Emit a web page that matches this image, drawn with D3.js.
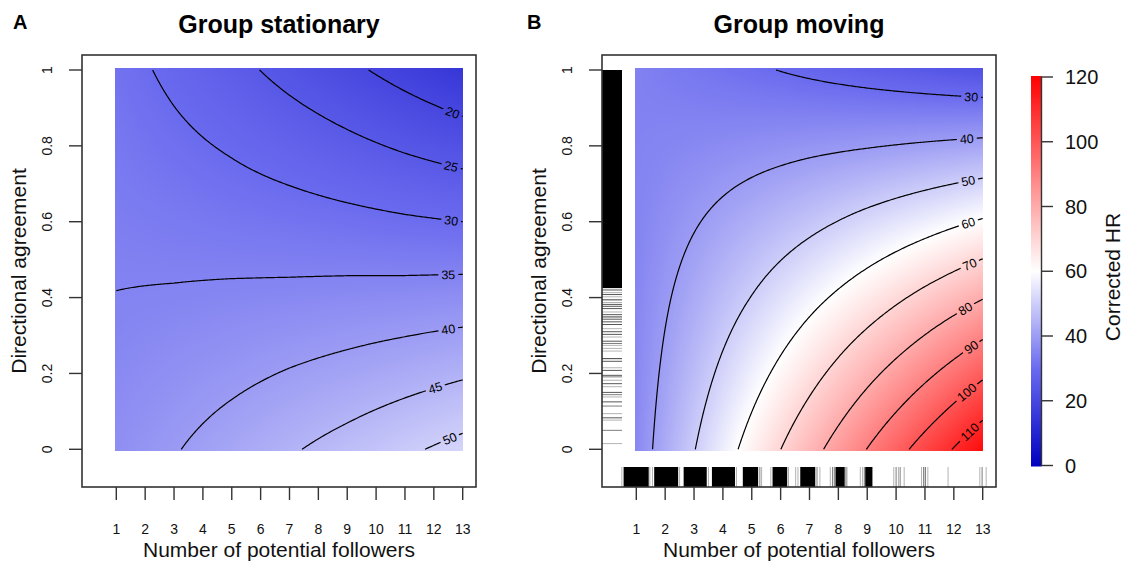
<!DOCTYPE html>
<html>
<head>
<meta charset="utf-8">
<script src="https://d3js.org/d3.v7.min.js"></script>
<style>
  body { margin: 0; background: #fff; }
  svg { display: block; font-family: "Liberation Sans", Arial, sans-serif; }
</style>
</head>
<body>
<svg width="1126" height="561"></svg>
<script>
// grid of the fitted surfaces: columns = number of potential followers, rows = directional agreement
var followers = [1, 3, 5, 7, 9, 11, 13];
var agreement = [0, 0.2, 0.4, 0.6, 0.8, 1];

// corrected HR, one row per agreement value
var stationaryHR = [
  [37.4, 39.7, 42.1, 44.5, 46.8, 49.2, 51.5],
  [36.2, 37.6, 38.9, 40.3, 41.6, 43.0, 44.4],
  [35.1, 35.4, 35.8, 36.1, 36.5, 36.8, 37.2],
  [34.0, 33.3, 32.6, 32.0, 31.3, 30.6, 30.0],
  [32.8, 31.1, 29.5, 27.8, 26.1, 24.4, 22.8],
  [31.7, 29.0, 26.3, 23.6, 21.0, 18.3, 15.6]
];
var movingHR = [
  [36.2, 49.7, 63.2, 76.7, 90.2, 103.7, 117.2],
  [35.9, 46.3, 56.7, 67.1, 77.6, 88.0, 98.4],
  [35.6, 42.9, 50.2, 57.6, 64.9, 72.3, 79.6],
  [35.2, 39.5, 43.8, 48.0, 52.3, 56.5, 60.8],
  [34.9, 36.1, 37.3, 38.5, 39.6, 40.8, 42.0],
  [34.6, 32.7, 30.8, 28.9, 27.0, 25.1, 23.2]
];
var stationaryLevels = [20, 25, 30, 35, 40, 45, 50];
var movingLevels = [30, 40, 50, 60, 70, 80, 90, 100, 110];

var xTicks = [1, 2, 3, 4, 5, 6, 7, 8, 9, 10, 11, 12, 13];
var yTicks = [0, 0.2, 0.4, 0.6, 0.8, 1];
var yTickLabels = ["0", "0.2", "0.4", "0.6", "0.8", "1"];
var legendTicks = [0, 20, 40, 60, 80, 100, 120];

// observations shown as rugs on the moving panel: dense stretches, then single lines [value, count]
var agreementBand = [0.425, 1];
var agreementRug = [[0.420,3],[0.413,1],[0.408,3],[0.402,1],[0.394,4],[0.387,1],[0.382,3],[0.377,3],
  [0.371,3],[0.362,1],[0.355,3],[0.349,4],[0.343,3],[0.336,3],[0.329,3],[0.318,1],[0.310,3],[0.303,3],
  [0.296,1],[0.285,3],[0.279,2],[0.274,1],[0.266,1],[0.259,1],[0.239,4],[0.232,3],[0.215,1],[0.208,3],
  [0.195,3],[0.191,2],[0.182,1],[0.173,3],[0.165,1],[0.150,3],[0.144,2],[0.138,1],[0.125,3],[0.114,2],
  [0.094,1],[0.083,3],[0.077,1],[0.050,2],[0.015,1]];
var followerBands = [[0.56,1.43],[1.62,2.45],[2.64,3.44],[3.62,4.42],[4.69,5.22],[5.72,6.22],
  [6.68,7.2],[7.9,8.22],[8.93,9.18]];
var followerRug = [[0.5,1],[1.47,1],[1.56,1],[2.5,1],[3.5,1],[4.47,1],[5.28,2],[5.34,1],[5.66,1],
  [6.26,2],[6.52,1],[6.6,1],[7.26,2],[7.36,1],[7.72,1],[7.8,2],[7.86,2],[8.26,2],[8.3,1],[8.76,1],
  [8.84,1],[8.9,2],[9.92,1],[10.0,2],[10.08,1],[10.14,2],[10.28,1],[10.88,1],[10.96,3],[11.02,2],
  [11.1,1],[11.8,1],[12.9,1],[12.98,2],[13.12,1]];

var svg = d3.select("svg");
var color = d3.scaleLinear().domain([0, 30, 60, 120])
  .range(["#0000c0", "#6a6aef", "#ffffff", "#ff0000"]);
var ink = "#333";

var panels = [
  { letter: "A", title: "Group stationary", off: 0, grid: stationaryHR, levels: stationaryLevels,
    labelAt: {20: 12.65, 25: 12.6, 30: 12.6, 35: 12.5, 40: 12.5, 45: 12.05, 50: 12.55}, rug: false },
  { letter: "B", title: "Group moving", off: 520, grid: movingHR, levels: movingLevels,
    labelAt: {30: 12.6, 40: 12.45, 50: 12.5, 60: 12.5, 70: 12.55, 80: 12.4, 90: 12.6, 100: 12.45, 110: 12.55}, rug: true }
];

function clamp(v, lo, hi) { return Math.max(lo, Math.min(hi, v)); }

// bilinear lookup in the read grid
function surface(grid) {
  var gx = d3.scaleLinear().domain(d3.extent(followers)).range([0, followers.length - 1]);
  var gy = d3.scaleLinear().domain(d3.extent(agreement)).range([0, agreement.length - 1]);
  return function(n, d) {
    var u = clamp(gx(n), 0, followers.length - 1.000001), v = clamp(gy(d), 0, agreement.length - 1.000001);
    var i = Math.floor(u), j = Math.floor(v), tx = u - i, ty = v - j;
    return (1 - tx) * (1 - ty) * grid[j][i] + tx * (1 - ty) * grid[j][i + 1]
      + (1 - tx) * ty * grid[j + 1][i] + tx * ty * grid[j + 1][i + 1];
  };
}

// split a contour ring into open isolines, dropping the pieces that run along the grid frame
function isolines(ring, nx, ny) {
  function onFrame(p, q) {
    return (p[0] === 0 && q[0] === 0) || (p[0] === nx && q[0] === nx) ||
           (p[1] === 0 && q[1] === 0) || (p[1] === ny && q[1] === ny);
  }
  var m = ring.length - 1, start = -1, lines = [], cur = [];
  for (var k = 0; k < m; k++) if (onFrame(ring[k], ring[k + 1])) { start = k + 1; break; }
  if (start < 0) return [ring.slice()];
  for (var s = 0; s < m; s++) {
    var a = ring[(start + s) % m], b = ring[(start + s + 1) % m];
    if (onFrame(a, b)) { if (cur.length > 1) lines.push(cur); cur = []; }
    else { if (!cur.length) cur.push(a); cur.push(b); }
  }
  if (cur.length > 1) lines.push(cur);
  // pull frame end points onto their neighbour so lines end cleanly at the edge
  lines.forEach(function(l) {
    [[0, 1], [l.length - 1, l.length - 2]].forEach(function(e) {
      var p = l[e[0]], q = l[e[1]];
      if (p[0] === 0 || p[0] === nx) l[e[0]] = [p[0], q[1]];
      else if (p[1] === 0 || p[1] === ny) l[e[0]] = [q[0], p[1]];
    });
  });
  return lines;
}

function yAt(pts, x) {
  for (var k = 0; k < pts.length - 1; k++) {
    var a = pts[k], b = pts[k + 1];
    if ((a[0] - x) * (b[0] - x) <= 0 && a[0] !== b[0]) {
      return a[1] + (x - a[0]) / (b[0] - a[0]) * (b[1] - a[1]);
    }
  }
  return null;
}

panels.forEach(function(p) {
  var off = p.off;
  var xs = d3.scaleLinear().domain([1, 13]).range([116.3 + off, 462.7 + off]);
  var ys = d3.scaleLinear().domain([0, 1]).range([449.3, 70]);
  var f = surface(p.grid);
  var g = svg.append("g");

  // heat image
  var hx0 = Math.round(xs(1) - 1.3), hx1 = Math.round(xs(13) + 0.6);
  var hy0 = Math.round(ys(1) - 1.7), hy1 = Math.round(ys(0) + 1.7);
  var w = hx1 - hx0, h = hy1 - hy0;
  var canvas = document.createElement("canvas");
  canvas.width = w; canvas.height = h;
  var ctx = canvas.getContext("2d");
  var img = ctx.createImageData(w, h);
  for (var py = 0; py < h; py++) {
    var dv = clamp(ys.invert(hy0 + py + 0.5), 0, 1);
    for (var px = 0; px < w; px++) {
      var nv = clamp(xs.invert(hx0 + px + 0.5), 1, 13);
      var c = d3.rgb(color(f(nv, dv)));
      var o = (py * w + px) * 4;
      img.data[o] = c.r; img.data[o + 1] = c.g; img.data[o + 2] = c.b; img.data[o + 3] = 255;
    }
  }
  ctx.putImageData(img, 0, 0);
  g.append("image").attr("x", hx0).attr("y", hy0).attr("width", w).attr("height", h)
    .attr("preserveAspectRatio", "none").attr("href", canvas.toDataURL());

  // contours on a fine sampling of the surface
  var nx = 241, ny = 201, sn = 12 / (nx - 1), sd = 1 / (ny - 1);
  var values = new Array(nx * ny);
  for (var j = 0; j < ny; j++) for (var i = 0; i < nx; i++) values[j * nx + i] = f(1 + i * sn, j * sd);
  var sets = d3.contours().size([nx, ny]).thresholds(p.levels)(values);

  var maskId = "gap" + p.letter;
  var mask = svg.append("defs").append("mask").attr("id", maskId)
    .attr("maskUnits", "userSpaceOnUse").attr("x", 0).attr("y", 0).attr("width", 1126).attr("height", 561);
  mask.append("rect").attr("width", 1126).attr("height", 561).attr("fill", "#fff");

  var lineGen = d3.line();
  var cg = g.append("g").attr("mask", "url(#" + maskId + ")");
  var lg = g.append("g");
  var fs = 12.5;

  sets.forEach(function(set) {
    var lines = [];
    set.coordinates.forEach(function(poly) {
      poly.forEach(function(ring) {
        isolines(ring, nx, ny).forEach(function(l) {
          lines.push(l.map(function(q) {
            return [xs(clamp(1 + (q[0] - 0.5) * sn, 1, 13)), ys(clamp((q[1] - 0.5) * sd, 0, 1))];
          }));
        });
      });
    });
    lines.forEach(function(l) {
      cg.append("path").attr("d", lineGen(l)).attr("fill", "none")
        .attr("stroke", "#000").attr("stroke-width", 1.2);
    });

    // label near the right edge, rotated along the line
    var tx = xs(p.labelAt[set.value]);
    lines.forEach(function(l) {
      var ty = yAt(l, tx);
      if (ty === null) return;
      var ya = yAt(l, tx - 5), yb = yAt(l, tx + 5);
      if (ya === null) ya = ty;
      if (yb === null) yb = ty;
      var ang = Math.atan2(yb - ya, 10) * 180 / Math.PI;
      var label = String(set.value);
      var lw = label.length * 0.556 * fs;
      var tr = "translate(" + tx + "," + ty + ") rotate(" + ang + ")";
      mask.append("rect").attr("x", -lw / 2 - 3).attr("y", -fs * 0.5).attr("width", lw + 6)
        .attr("height", fs).attr("fill", "#000").attr("transform", tr);
      lg.append("text").attr("transform", tr).attr("text-anchor", "middle").attr("dy", "0.36em")
        .attr("font-size", fs).attr("fill", "#000").text(label);
    });
  });

  // rugs
  if (p.rug) {
    var rx0 = 82 + off, by = 487;
    g.append("rect").attr("x", rx0).attr("y", ys(agreementBand[1])).attr("width", 20)
      .attr("height", ys(agreementBand[0]) - ys(agreementBand[1])).attr("fill", "#000");
    g.selectAll(".rugy").data(agreementRug).enter().append("line")
      .attr("x1", rx0).attr("x2", rx0 + 20)
      .attr("y1", function(d) { return ys(d[0]); }).attr("y2", function(d) { return ys(d[0]); })
      .attr("stroke", "#000").attr("stroke-width", 1)
      .attr("stroke-opacity", function(d) { return 1 - Math.pow(0.7, d[1]); });
    g.selectAll(".rugbx").data(followerBands).enter().append("rect")
      .attr("x", function(d) { return xs(d[0]); }).attr("width", function(d) { return xs(d[1]) - xs(d[0]); })
      .attr("y", by - 20).attr("height", 20).attr("fill", "#000");
    g.selectAll(".rugx").data(followerRug).enter().append("line")
      .attr("x1", function(d) { return xs(d[0]); }).attr("x2", function(d) { return xs(d[0]); })
      .attr("y1", by - 20).attr("y2", by)
      .attr("stroke", "#000").attr("stroke-width", 1)
      .attr("stroke-opacity", function(d) { return 1 - Math.pow(0.7, d[1]); });
  }

  // frame
  g.append("rect").attr("x", 82 + off).attr("y", 55).attr("width", 394).attr("height", 432)
    .attr("fill", "none").attr("stroke", ink).attr("stroke-width", 1.6);

  // x axis
  g.selectAll(".xt").data(xTicks).enter().append("line")
    .attr("x1", xs).attr("x2", xs).attr("y1", 487).attr("y2", 500)
    .attr("stroke", ink).attr("stroke-width", 1.4);
  g.selectAll(".xl").data(xTicks).enter().append("text")
    .attr("x", xs).attr("y", 534).attr("text-anchor", "middle").attr("font-size", 14)
    .attr("fill", "#111").text(function(d) { return d; });
  g.append("text").attr("x", 279 + off).attr("y", 557).attr("text-anchor", "middle")
    .attr("font-size", 21).attr("fill", "#111").text("Number of potential followers");

  // y axis
  g.selectAll(".yt").data(yTicks).enter().append("line")
    .attr("x1", 69 + off).attr("x2", 82 + off).attr("y1", ys).attr("y2", ys)
    .attr("stroke", ink).attr("stroke-width", 1.4);
  g.selectAll(".yl").data(yTicks).enter().append("text")
    .attr("transform", function(d) { return "translate(" + (52 + off) + "," + ys(d) + ") rotate(-90)"; })
    .attr("text-anchor", "middle").attr("font-size", 14).attr("fill", "#111")
    .text(function(d, i) { return yTickLabels[i]; });
  g.append("text").attr("transform", "translate(" + (26 + off) + ",271) rotate(-90)")
    .attr("text-anchor", "middle").attr("font-size", 21).attr("fill", "#111").text("Directional agreement");

  // titles
  g.append("text").attr("x", 279 + off).attr("y", 33).attr("text-anchor", "middle")
    .attr("font-size", 25).attr("font-weight", "bold").text(p.title);
  g.append("text").attr("x", off === 0 ? 13 : 527).attr("y", 29)
    .attr("font-size", 20).attr("font-weight", "bold").text(p.letter);
});

// colour bar
var cs = d3.scaleLinear().domain([0, 120]).range([465.5, 77]);
var grad = svg.append("defs").append("linearGradient").attr("id", "hrbar")
  .attr("x1", 0).attr("y1", 1).attr("x2", 0).attr("y2", 0);
d3.range(0, 121, 5).forEach(function(v) {
  grad.append("stop").attr("offset", v / 120).attr("stop-color", color(v));
});
svg.append("rect").attr("x", 1031).attr("y", cs(120) - 1).attr("width", 10.5)
  .attr("height", cs(0) - cs(120) + 2).attr("fill", "url(#hrbar)");
svg.append("line").attr("x1", 1041.5).attr("x2", 1041.5).attr("y1", cs(120)).attr("y2", cs(0))
  .attr("stroke", ink).attr("stroke-width", 1.4);
svg.selectAll(".ct").data(legendTicks).enter().append("line")
  .attr("x1", 1041).attr("x2", 1053).attr("y1", cs).attr("y2", cs)
  .attr("stroke", ink).attr("stroke-width", 1.4);
svg.selectAll(".cl").data(legendTicks).enter().append("text")
  .attr("x", 1065).attr("y", cs).attr("dy", "0.36em").attr("font-size", 20).attr("fill", "#111")
  .text(function(d) { return d; });
svg.append("text").attr("transform", "translate(1120,277) rotate(-90)").attr("text-anchor", "middle")
  .attr("font-size", 21).attr("fill", "#111").text("Corrected HR");
</script>
</body>
</html>
